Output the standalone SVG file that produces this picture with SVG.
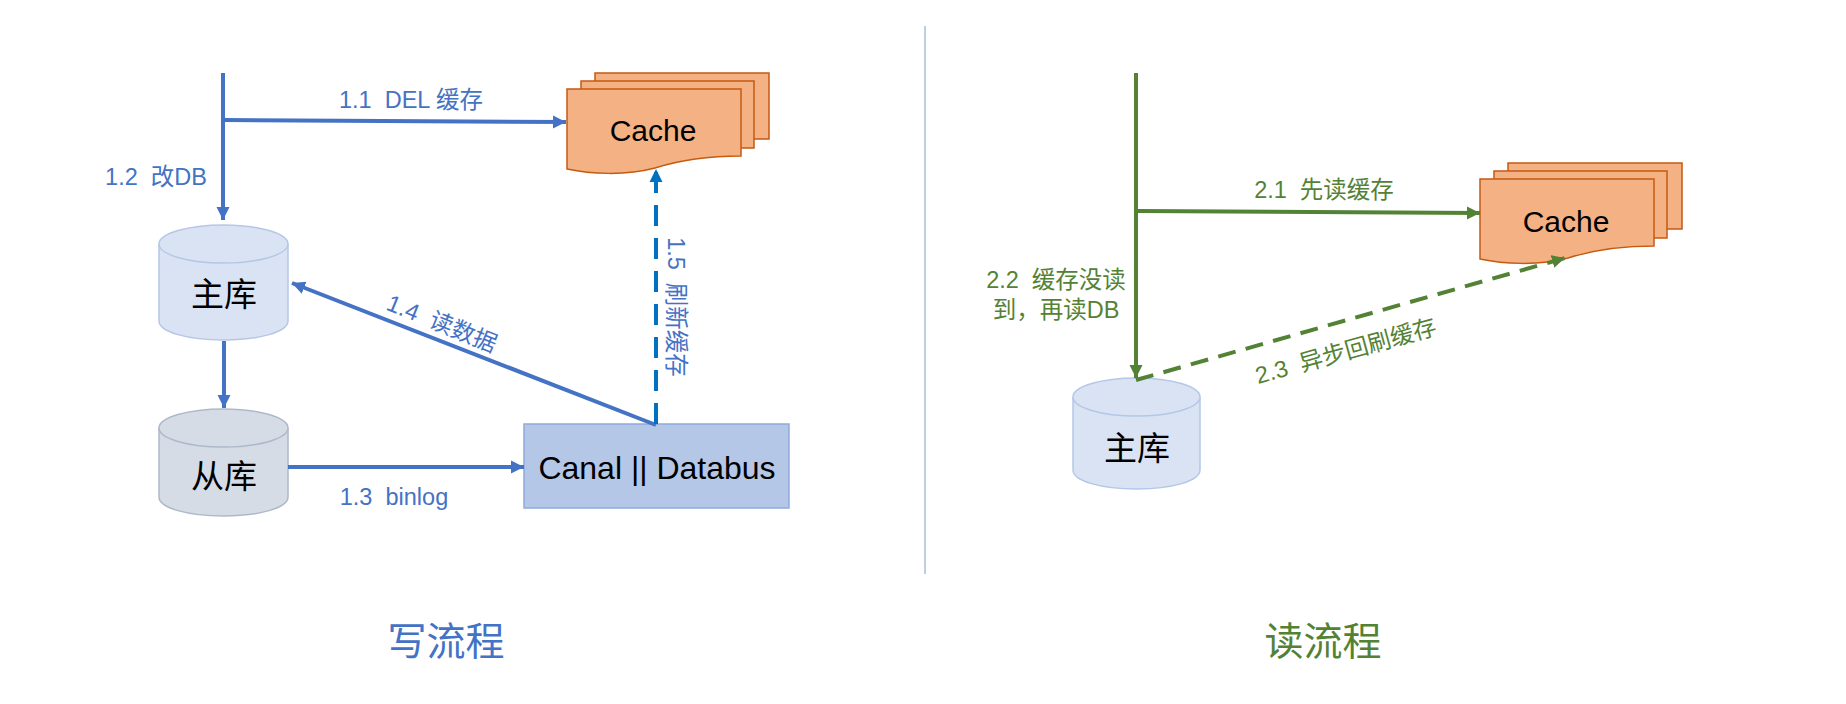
<svg xmlns="http://www.w3.org/2000/svg" width="1846" height="704" viewBox="0 0 1846 704">
<style>
text{font-family:"Liberation Sans","Noto Sans CJK SC",sans-serif;white-space:pre;text-anchor:middle}
.lb{font-size:23.500px}
.blue{fill:#4472c4}
.green{fill:#548235}
.node{font-size:30px;fill:#000}
.cjk{font-size:33px}
.canal{font-size:32px}
.title{font-size:39px}
.c{fill:#f4b183;stroke:#c55a11;stroke-width:1.500}
.db{fill:#dae3f3;stroke:#b4c7e7;stroke-width:1.500}
.dbg{fill:#d6dce5;stroke:#adb9ca;stroke-width:1.500}
.l{fill:none;stroke-width:4}
.lbl{stroke:#4472c4}
.lgr{stroke:#548235}
</style>
<defs>
<marker id="ab" markerUnits="userSpaceOnUse" markerWidth="14" markerHeight="14" refX="13" refY="7" orient="auto"><path d="M0 0.500L13 7L0 13.500Z" fill="#4472c4"/></marker>
<marker id="ad" markerUnits="userSpaceOnUse" markerWidth="14" markerHeight="14" refX="13" refY="7" orient="auto"><path d="M0 0.500L13 7L0 13.500Z" fill="#0070c0"/></marker>
<marker id="ag" markerUnits="userSpaceOnUse" markerWidth="14" markerHeight="14" refX="13" refY="7" orient="auto"><path d="M0 0.500L13 7L0 13.500Z" fill="#548235"/></marker>
<g id="stack">
<rect class="c" x="595" y="73" width="174" height="66"/>
<rect class="c" x="581" y="81" width="173" height="67"/>
<path class="c" d="M567 89H741V156C705 156 680 160 655 168C625 176 590 174 567 169Z"/>
</g>
</defs>
<line id="divider" x1="925" y1="26" x2="925" y2="574" stroke="#a9bfd8" stroke-width="1.500"/>
<g id="cache-write"><use href="#stack"/><text class="node" x="653" y="141">Cache</text></g>
<g id="master-write">
<path class="db" d="M159 244V321C159 332 188 340 223.500 340S288 332 288 321V244"/>
<ellipse class="db" cx="223.500" cy="244" rx="64.500" ry="19"/>
<text class="node cjk" x="224" y="306">主库</text>
</g>
<g id="slave-write">
<path class="dbg" d="M159 428V497C159 508 188 516 223.500 516S288 508 288 497V428"/>
<ellipse class="dbg" cx="223.500" cy="428" rx="64.500" ry="19"/>
<text class="node cjk" x="224" y="488">从库</text>
</g>
<g id="canal">
<rect x="524" y="424" width="265" height="84" fill="#b4c7e7" stroke="#8faadc" stroke-width="1.500"/>
<text class="node canal" x="657" y="479">Canal || Databus</text>
</g>
<g id="cache-read"><use href="#stack" x="913" y="90"/><text class="node" x="1566" y="232">Cache</text></g>
<g id="master-read">
<path class="db" d="M1073 397V470C1073 481 1101 489 1136.500 489S1200 481 1200 470V397"/>
<ellipse class="db" cx="1136.500" cy="397" rx="63.500" ry="19"/>
<text class="node cjk" x="1137" y="460">主库</text>
</g>
<g id="connectors">
<path class="l lbl" d="M223 73V220" marker-end="url(#ab)"/>
<path class="l lbl" d="M225 120L566 122" marker-end="url(#ab)"/>
<path class="l lbl" d="M224 341V408" marker-end="url(#ab)"/>
<path class="l lbl" d="M288 467H524" marker-end="url(#ab)"/>
<path class="l lbl" d="M656 425L292 283" marker-end="url(#ab)"/>
<path class="l" stroke="#0070c0" stroke-dasharray="21 12" d="M656 424V169" marker-end="url(#ad)"/>
<path class="l lgr" d="M1136 73V378" marker-end="url(#ag)"/>
<path class="l lgr" d="M1138 211L1480 213" marker-end="url(#ag)"/>
<path class="l lgr" stroke-dasharray="18 10.500" d="M1136 380L1565 258" marker-end="url(#ag)"/>
</g>
<g id="labels">
<text class="lb blue" x="411" y="108">1.1  DEL 缓存</text>
<text class="lb blue" x="156" y="185">1.2  改DB</text>
<text class="lb blue" x="394" y="505">1.3  binlog</text>
<text class="lb blue" transform="translate(439 331) rotate(22)">1.4  读数据</text>
<text class="lb blue" transform="translate(668 307) rotate(90)">1.5  刷新缓存</text>
<text class="lb green" x="1324" y="198">2.1  先读缓存</text>
<text class="lb green" x="1056" y="288">2.2  缓存没读</text>
<text class="lb green" x="1056" y="318">到，再读DB</text>
<text class="lb green" transform="translate(1348 359) rotate(-15.500)">2.3  异步回刷缓存</text>
<text class="title blue" x="446" y="655">写流程</text>
<text class="title green" x="1323" y="655">读流程</text>
</g>
</svg>
